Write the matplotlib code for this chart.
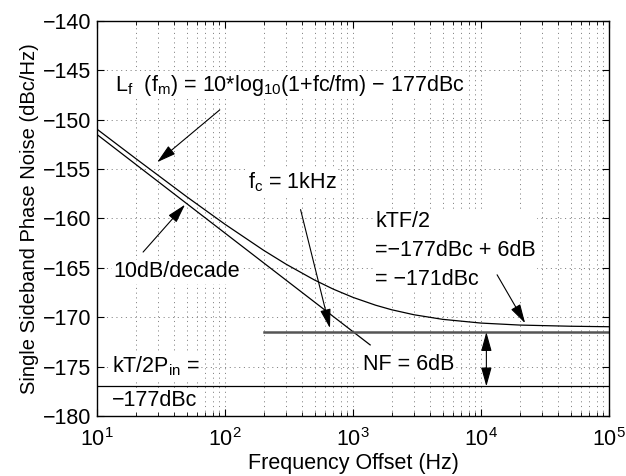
import numpy as np
import matplotlib
matplotlib.use("Agg")
import matplotlib.pyplot as plt

plt.rcParams['font.family'] = ['Liberation Sans', 'DejaVu Sans']
plt.rcParams['mathtext.default'] = 'regular'
plt.rcParams['lines.scale_dashes'] = False

# phase noise with flicker corner, fc = 1 kHz, floor at -171 dBc
freq = [10, 20, 50, 100, 200, 300, 500, 700, 1000, 1500, 2000, 3000, 5000,
        1e4, 2e4, 5e4, 1e5]
noise_db = [-150.96, -153.92, -157.78, -160.59, -163.22, -164.63, -166.23,
            -167.15, -167.99, -168.78, -169.24, -169.75, -170.21, -170.59,
            -170.79, -170.91, -170.96]

# 10 dB/decade asymptote
asym_f = [10, 1360]
asym_db = [-151.5, -172.8]

# noise floors
nf_f = [200, 1e5]
nf_db = [-171.5, -171.5]
kt_f = [10, 1e5]
kt_db = [-177, -177]

xticks = [10, 100, 1000, 1e4, 1e5]
xticklabels = ['$10^{1}$', '$10^{2}$', '$10^{3}$', '$10^{4}$', '$10^{5}$']
yticks = [-180, -175, -170, -165, -160, -155, -150, -145, -140]

fs = 15.5

fig = plt.figure(figsize=(6.26, 4.76), dpi=100)
ax = fig.add_axes([0.155, 0.126, 0.818, 0.830])

ax.semilogx(freq, noise_db, color='black', lw=0.9)
ax.semilogx(asym_f, asym_db, color='black', lw=0.9)
ax.semilogx(nf_f, nf_db, color='#555555', lw=1.8)
ax.semilogx(kt_f, kt_db, color='black', lw=0.9)

ax.set_xlim(10, 1e5)
ax.set_ylim(-180, -140)
ax.set_xticks(xticks)
ax.set_xticklabels(xticklabels)
ax.set_yticks(yticks)

grid_style = dict(color='0.45', lw=0.6, linestyle=(0, (0.8, 2.6)))
ax.grid(True, which='major', axis='both', **grid_style)
ax.grid(True, which='minor', axis='x', **grid_style)
ax.tick_params(which='both', direction='in', top=True, right=True, labelsize=fs)
ax.tick_params(which='major', length=5, width=0.8)
ax.tick_params(which='minor', length=3, width=0.6)
ax.tick_params(axis='x', which='major', pad=9)
ax.tick_params(axis='y', which='major', pad=4)
for s in ax.spines.values():
    s.set_linewidth(1.0)

ax.set_xlabel('Frequency Offset (Hz)', fontsize=fs, labelpad=1)
ax.set_ylabel('Single Sideband Phase Noise (dBc/Hz)', fontsize=14.5, labelpad=3)

box = dict(facecolor='white', edgecolor='none', pad=1)
arrow = dict(arrowstyle='-|>,head_length=0.9,head_width=0.25', color='black',
             lw=0.8, mutation_scale=13, shrinkA=0, shrinkB=0)

ax.text(13.8, -146.5, 'L$_f$  (f$_m$) = 10*log$_{10}$(1+fc/fm) \u2212 177dBc',
        fontsize=fs, va='center', ha='left', bbox=box)
ax.annotate('', xy=(29.5, -154.3), xytext=(91, -149.0), arrowprops=arrow)

ax.text(13.3, -165.4, '10dB/decade', fontsize=fs, va='center', ha='left', bbox=box)
ax.annotate('', xy=(48.7, -158.6), xytext=(22.9, -163.4), arrowprops=arrow)

ax.text(151, -156.3, 'f$_c$ = 1kHz', fontsize=fs, va='center', ha='left', bbox=box)
ax.annotate('', xy=(660, -171.1), xytext=(389, -159.1), arrowprops=arrow)

ax.text(1486, -163.2, 'kTF/2\n=\u2212177dBc + 6dB\n= \u2212171dBc', fontsize=fs,
        va='center', ha='left', linespacing=1.5, bbox=box)
ax.annotate('', xy=(22080, -170.6), xytext=(13335, -165.7), arrowprops=arrow)

ax.text(1197, -174.8, 'NF = 6dB', fontsize=fs, va='center', ha='left', bbox=box)
ax.annotate('', xy=(1.1e4, -171.5), xytext=(1.1e4, -177),
            arrowprops=dict(arrowstyle='<|-|>,head_length=0.9,head_width=0.25',
                            color='black', lw=0.8, mutation_scale=13,
                            shrinkA=0, shrinkB=0))

ax.text(13.1, -175.0, 'kT/2P$_{in}$ =', fontsize=fs, va='center', ha='left', bbox=box)
ax.text(13.1, -178.4, '\u2212177dBc', fontsize=fs, va='center', ha='left', bbox=box)

fig.savefig('out.png', dpi=100)
